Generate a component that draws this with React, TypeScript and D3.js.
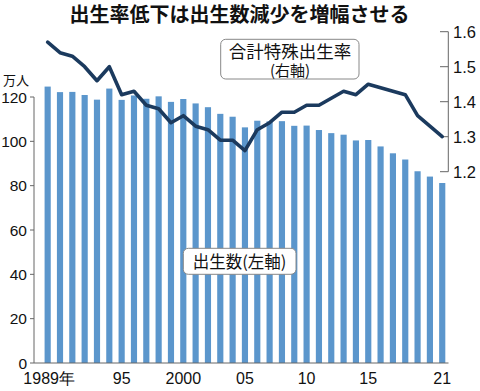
import React from 'react';
import * as d3 from 'd3';

// 出生数(万人)と合計特殊出生率, 1989-2021
const years = d3.range(1989, 2022);
const births = [
  124.7, 122.2, 122.3, 120.9, 118.8, 123.8, 118.7, 120.7, 119.2, 120.3, 117.8,
  119.1, 117.1, 115.4, 112.4, 111.1, 106.3, 109.3, 109.0, 109.1, 107.0, 107.1,
  105.1, 103.7, 103.0, 100.4, 100.6, 97.7, 94.6, 91.8, 86.5, 84.1, 81.2,
];
const tfr = [
  1.57, 1.54, 1.53, 1.5, 1.46, 1.5, 1.42, 1.43, 1.39, 1.38, 1.34, 1.36, 1.33,
  1.32, 1.29, 1.29, 1.26, 1.32, 1.34, 1.37, 1.37, 1.39, 1.39, 1.41, 1.43, 1.42,
  1.45, 1.44, 1.43, 1.42, 1.36, 1.33, 1.3,
];
const leftTicks = [0, 20, 40, 60, 80, 100, 120];
const rightTicks = [1.2, 1.3, 1.4, 1.5, 1.6];
const xLabels: [number, string][] = [
  [1989, '1989年'], [1995, '95'], [2000, '2000'], [2005, '05'],
  [2010, '10'], [2015, '15'], [2021, '21'],
];

const W = 480;
const H = 391;
const numFont = '"Liberation Sans", Arial, sans-serif';
const jpFont = '"Noto Sans CJK JP", sans-serif';

const App = () => {
  const x = d3.scaleBand<number>()
    .domain(years)
    .range([41.5, 448.4])
    .paddingInner(0.5)
    .paddingOuter(0.25);
  const yL = d3.scaleLinear().domain([0, 120]).range([363, 97]);
  const yR = d3.scaleLinear().domain([1.2, 1.6]).range([171.7, 31.7]);
  const cx = (yr: number) => (x(yr) as number) + x.bandwidth() / 2;

  const line = d3.line<number>()
    .x((d, i) => cx(years[i]))
    .y(d => yR(d));

  const axisColor = '#666';

  return (
    <div style={{ position: 'absolute', left: 0, top: 0 }}>
      <svg width={W} height={H} style={{ display: 'block', background: '#fff' }}>
        {/* タイトル */}
        <text x={239.5} y={22} textAnchor="middle" fontFamily={jpFont}
          fontWeight={700} fontSize={20} fill="#111">出生率低下は出生数減少を増幅させる</text>

        {/* 棒 */}
        {births.map((v, i) => (
          <rect key={years[i]} x={x(years[i])} width={x.bandwidth()}
            y={yL(v)} height={yL(0) - yL(v)} fill="#5b96cc" />
        ))}

        {/* 左軸 */}
        <line x1={34} x2={34} y1={yL(120)} y2={yL(0)} stroke={axisColor} strokeWidth={1} />
        <line x1={34} x2={448.5} y1={yL(0)} y2={yL(0)} stroke={axisColor} strokeWidth={1} />
        {leftTicks.map(t => (
          <g key={t}>
            <line x1={30} x2={34} y1={yL(t)} y2={yL(t)} stroke={axisColor} />
            <text x={27} y={yL(t)} dy="0.36em" textAnchor="end" fontFamily={numFont}
              fontSize={15.5} fill="#111">{t}</text>
          </g>
        ))}
        <text x={3} y={85} fontFamily={jpFont} fontSize={13} fill="#111">万人</text>

        {/* 右軸 */}
        <line x1={448.3} x2={448.3} y1={yR(1.6)} y2={yR(1.2)} stroke={axisColor} strokeWidth={1} />
        {rightTicks.map(t => (
          <g key={t}>
            <line x1={440} x2={448.3} y1={yR(t)} y2={yR(t)} stroke={axisColor} />
            <text x={453} y={yR(t)} dy="0.36em" fontFamily={numFont}
              fontSize={16.5} fill="#111">{t.toFixed(1)}</text>
          </g>
        ))}

        {/* x軸ラベル */}
        {xLabels.map(([yr, s]) => (
          <text key={yr} x={cx(yr) + (yr === 1989 ? 1.5 : 0)} y={384} textAnchor="middle"
            fontFamily={numFont} fontSize={16} fill="#111">{s}</text>
        ))}

        {/* 合計特殊出生率 */}
        <path d={line(tfr) || ''} fill="none" stroke="#1b3a5e" strokeWidth={3.6}
          strokeLinejoin="round" strokeLinecap="round" />

        {/* 注記 */}
        <rect x={220.7} y={39.3} width={138.3} height={39.7} rx={5} fill="#fff"
          stroke="#888" strokeWidth={1} />
        <text x={290} y={57.5} textAnchor="middle" fontFamily={jpFont} fontSize={17.5}
          fill="#111">合計特殊出生率</text>
        <text x={290} y={76} textAnchor="middle" fontFamily={jpFont} fontSize={15}
          fill="#111">(右軸)</text>

        <rect x={183.3} y={248.3} width={112.7} height={26} rx={5} fill="#fff"
          stroke="#888" strokeWidth={1} />
        <text x={239.5} y={267.5} textAnchor="middle" fontFamily={jpFont} fontSize={16.5}
          fill="#111">出生数(左軸)</text>
      </svg>
    </div>
  );
};

export default App;
